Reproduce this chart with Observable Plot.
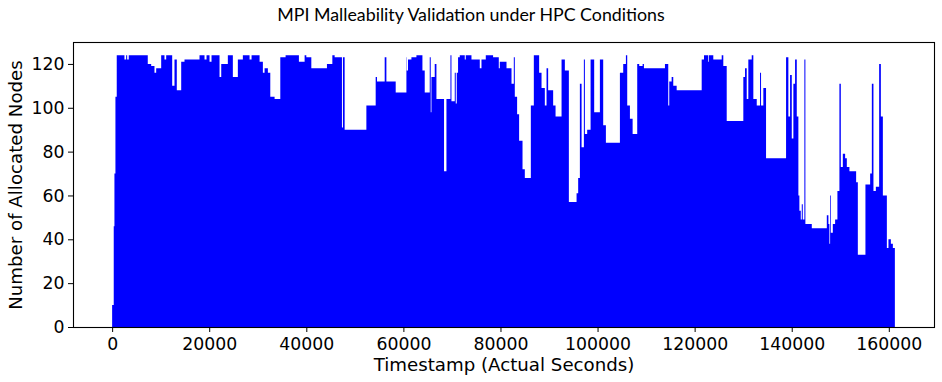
<!DOCTYPE html>
<html>
<head>
<meta charset="utf-8">
<script src="https://cdn.jsdelivr.net/npm/d3@7"></script>
<script src="https://cdn.jsdelivr.net/npm/@observablehq/plot@0.6"></script>
<style>
  html, body { margin: 0; padding: 0; background: #fff; }
  #title {
    width: 942px; height: 30px; box-sizing: border-box; padding-top: 6px;
    text-align: center; font-family: Lato, "DejaVu Sans", sans-serif;
    font-size: 17.8px; line-height: 17px; color: #000;
  }
  #chart svg { display: block; }
</style>
</head>
<body>
<div id="title">MPI Malleability Validation under HPC Conditions</div>
<div id="chart"></div>
<script>
// Allocated node count over the run, as a step series (value holds until next timestamp)
const timestamps = [
  0, 330, 474, 680, 949, 2536, 2887, 3093, 3423, 7341,
  8042, 8722, 9073, 10104, 10784, 11135, 12372, 12846, 13321, 14228,
  14908, 18001, 19032, 19445, 20063, 20476, 22125, 22476, 23837, 24868,
  25899, 26930, 28311, 28724, 30373, 31054, 31404, 32085, 32580, 33466,
  34642, 35734, 38477, 39652, 40003, 41034, 44251, 45364, 45838, 47344,
  47550, 47900, 52375, 54292, 54561, 56148, 56499, 58416, 60623, 60685,
  60953, 61654, 62685, 63922, 64397, 65427, 65633, 65778, 66458, 66809,
  68376, 68871, 69696, 69902, 70582, 70788, 70995, 71263, 71613, 72644,
  72850, 74026, 75737, 76088, 76974, 78480, 79655, 79861, 81243, 82274,
  82748, 82954, 83429, 83841, 84542, 85016, 86254, 86872, 87965, 88460,
  89140, 89491, 89820, 90852, 91347, 92584, 93264, 94090, 95677, 96007,
  96358, 96708, 97182, 97388, 97863, 98564, 99306, 100481, 101162, 101718,
  104605, 105286, 105842, 106111, 106667, 107224, 108172, 108585, 109286, 109554,
  113884, 114565, 114771, 115266, 115596, 116297, 121452, 121926, 122813, 122957,
  123844, 125576, 125906, 126607, 130030, 130380, 130731, 131061, 131762, 132092,
  132793, 133473, 133679, 134154, 134710, 138834, 139309, 139659, 140010, 140340,
  140690, 141041, 141371, 141577, 141866, 142072, 142278, 142608, 142814, 144134,
  147227, 147557, 147763, 147907, 148052, 148464, 148938, 149413, 149825, 150114,
  150526, 151000, 151351, 151887, 153268, 153619, 155186, 156155, 156506, 156836,
  157331, 158011, 158362, 158774, 159599, 159929, 160424, 160836, 161248
];
const nodes = [
  10, 46, 70, 105, 124, 122, 124, 122, 124, 120,
  119, 116, 118, 124, 122, 124, 110, 122, 108, 121,
  122, 124, 122, 124, 121, 124, 114, 120, 124, 114,
  122, 124, 122, 124, 121, 116, 118, 116, 105, 104,
  123, 124, 121, 124, 123, 118, 120, 124, 123, 91,
  123, 90, 101, 114, 112, 123, 112, 107, 123, 117,
  122, 123, 124, 117, 107, 123, 98, 114, 120, 104,
  71, 104, 124, 103, 116, 102, 116, 123, 124, 122,
  124, 122, 118, 122, 124, 123, 118, 121, 118, 111,
  123, 105, 97, 85, 72, 68, 101, 124, 116, 109,
  101, 118, 108, 101, 96, 122, 117, 57, 61, 68,
  111, 82, 122, 88, 90, 122, 98, 122, 92, 84,
  116, 120, 124, 101, 95, 88, 120, 119, 120, 118,
  120, 101, 112, 114, 110, 108, 122, 124, 121, 124,
  122, 124, 119, 94, 114, 118, 104, 122, 124, 104,
  101, 116, 101, 109, 77, 123, 96, 115, 86, 111,
  122, 96, 60, 53, 49, 56, 49, 122, 47, 45,
  51, 47, 38, 60, 43, 47, 49, 62, 111, 73,
  79, 77, 73, 71, 66, 33, 65, 70, 111, 62,
  64, 120, 96, 60, 36, 40, 38, 36, 36
];
const xTicks = [0, 20000, 40000, 60000, 80000, 100000, 120000, 140000, 160000];
const yTicks = [0, 20, 40, 60, 80, 100, 120];

const series = timestamps.map((t, i) => ({t, n: nodes[i]}));

const chart = Plot.plot({
  width: 942,
  height: 352,
  marginLeft: 73,
  marginRight: 8,
  marginTop: 12,
  marginBottom: 55,
  style: {fontFamily: "DejaVu Sans", fontSize: "17.3px", color: "#000", background: "#fff"},
  x: {domain: [-8062, 169310]},
  y: {domain: [0, 130]},
  marks: [
    Plot.areaY(series, {x: "t", y: "n", curve: "step-after", fill: "#0000ff"}),
    Plot.frame({stroke: "#000", strokeWidth: 1.1}),
    Plot.axisX({ticks: xTicks, tickFormat: d => String(d), tickSize: 5, tickPadding: 5, label: null, stroke: "#000"}),
    Plot.axisY({ticks: yTicks, tickFormat: d => String(d), tickSize: 5, tickPadding: 4, label: null, stroke: "#000"}),
    Plot.text(["Timestamp (Actual Seconds)"], {frameAnchor: "bottom", dy: 43, fontSize: 18.2, fill: "#000"}),
    Plot.text(["Number of Allocated Nodes"], {frameAnchor: "left", dx: -57, rotate: -90, textAnchor: "middle", fontSize: 18.2, fill: "#000"})
  ]
});
document.getElementById("chart").appendChild(chart);
</script>
</body>
</html>
